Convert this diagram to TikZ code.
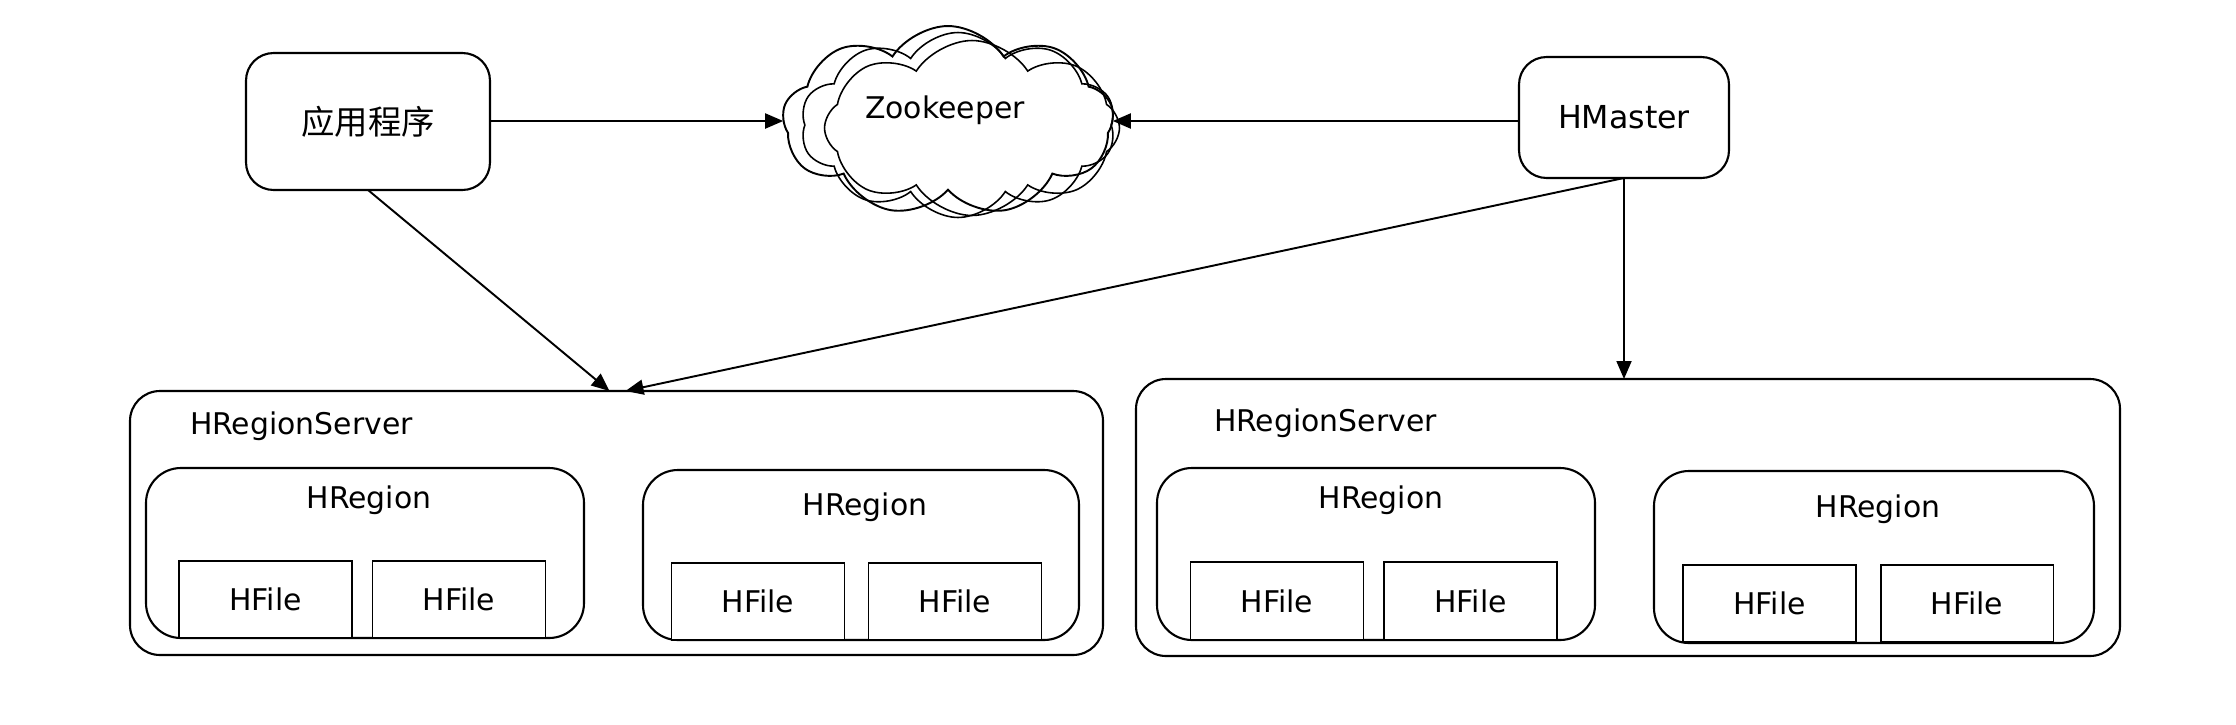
\documentclass[tikz,border=0pt]{standalone}
\usepackage{fontspec}
\setmainfont{DejaVu Sans}
\newfontfamily\cjk{Noto Sans CJK SC}
\usetikzlibrary{arrows.meta,shapes.symbols,fit,calc}
\begin{document}
\begin{tikzpicture}[x=0.02cm,y=-0.02cm,
  every node/.style={inner sep=0pt, outer sep=0pt},
  rbox/.style={draw, line width=1.2pt, rounded corners=0.55cm},
  fbox/.style={draw, line width=1.1pt, fill=white, minimum width=3.46cm, minimum height=1.55cm,
    font=\fontsize{17}{20}\selectfont},
  lbl/.style={font=\fontsize{17}{20}\selectfont},
  arr/.style={line width=1.1pt, -{Triangle[length=0.36cm,width=0.3cm]}},
  cl/.style={cloud, draw, line width=0.9pt, cloud puffs=9, cloud puff arc=115, aspect=1.7},
]
\useasboundingbox (0,0) rectangle (2236,724);

% top row
\node[rbox, minimum width=4.88cm, minimum height=2.74cm, font=\cjk\fontsize{19}{22}\selectfont] (app) at (368,121.5) {应用程序};
\node[rbox, minimum width=4.2cm, minimum height=2.42cm, font=\fontsize{18}{21}\selectfont] (hm) at (1624,117.5) {HMaster};

\node[cl, cloud puffs=8, minimum width=5.9cm, minimum height=3.5cm] (zk3) at (972,128) {};
\node[cl, cloud puffs=10, minimum width=6.3cm, minimum height=3.7cm] (zk2) at (958,125) {};
\node[cl, line width=1.1pt, minimum width=6.62cm, minimum height=3.8cm] (zk) at (948,121) {};
\node[lbl, anchor=base] (zkt) at (945,118) {Zookeeper};

% region servers
\node[rbox, rounded corners=0.6cm, fit={(130,391) (1103,655)}] (hrs1) {};
\node[rbox, rounded corners=0.6cm, fit={(1136,379) (2120,656)}] (hrs2) {};
\node[lbl, anchor=base west] (hrs1t) at (190,434) {HRegionServer};
\node[lbl, anchor=base west] (hrs2t) at (1214,431) {HRegionServer};

% regions
\node[rbox, rounded corners=0.7cm, fit={(146,468) (584,638)}] (r1) {};
\node[rbox, rounded corners=0.7cm, fit={(643,470) (1079,640)}] (r2) {};
\node[rbox, rounded corners=0.7cm, fit={(1157,468) (1595,640)}] (r3) {};
\node[rbox, rounded corners=0.7cm, fit={(1654,471) (2094,643)}] (r4) {};
\node[lbl, anchor=base] (r1t) at (369,508) {HRegion};
\node[lbl, anchor=base] (r2t) at (865,515) {HRegion};
\node[lbl, anchor=base] (r3t) at (1381,508) {HRegion};
\node[lbl, anchor=base] (r4t) at (1878,517) {HRegion};

% files
\node[fbox] (f1) at (265.5,599.5) {HFile};
\node[fbox] (f2) at (459,599.5) {HFile};
\node[fbox] (f3) at (758,601.5) {HFile};
\node[fbox] (f4) at (955,601.5) {HFile};
\node[fbox] (f5) at (1277,601) {HFile};
\node[fbox] (f6) at (1470.5,601) {HFile};
\node[fbox] (f7) at (1769.5,603.5) {HFile};
\node[fbox] (f8) at (1967,603.5) {HFile};

% connectors
\draw[arr] (app.east |- zk.west) -- (zk.west);
\draw[arr] (hm.west |- zk.east) -- (zk.east);
\draw[arr] (app.south) -- ($(hrs1.north)+(-7,0)$);
\draw[arr] (hm.south) -- ($(hrs1.north)+(9,0)$);
\draw[arr] (hm.south) -- (hm.south |- hrs2.north);
\end{tikzpicture}
\end{document}
